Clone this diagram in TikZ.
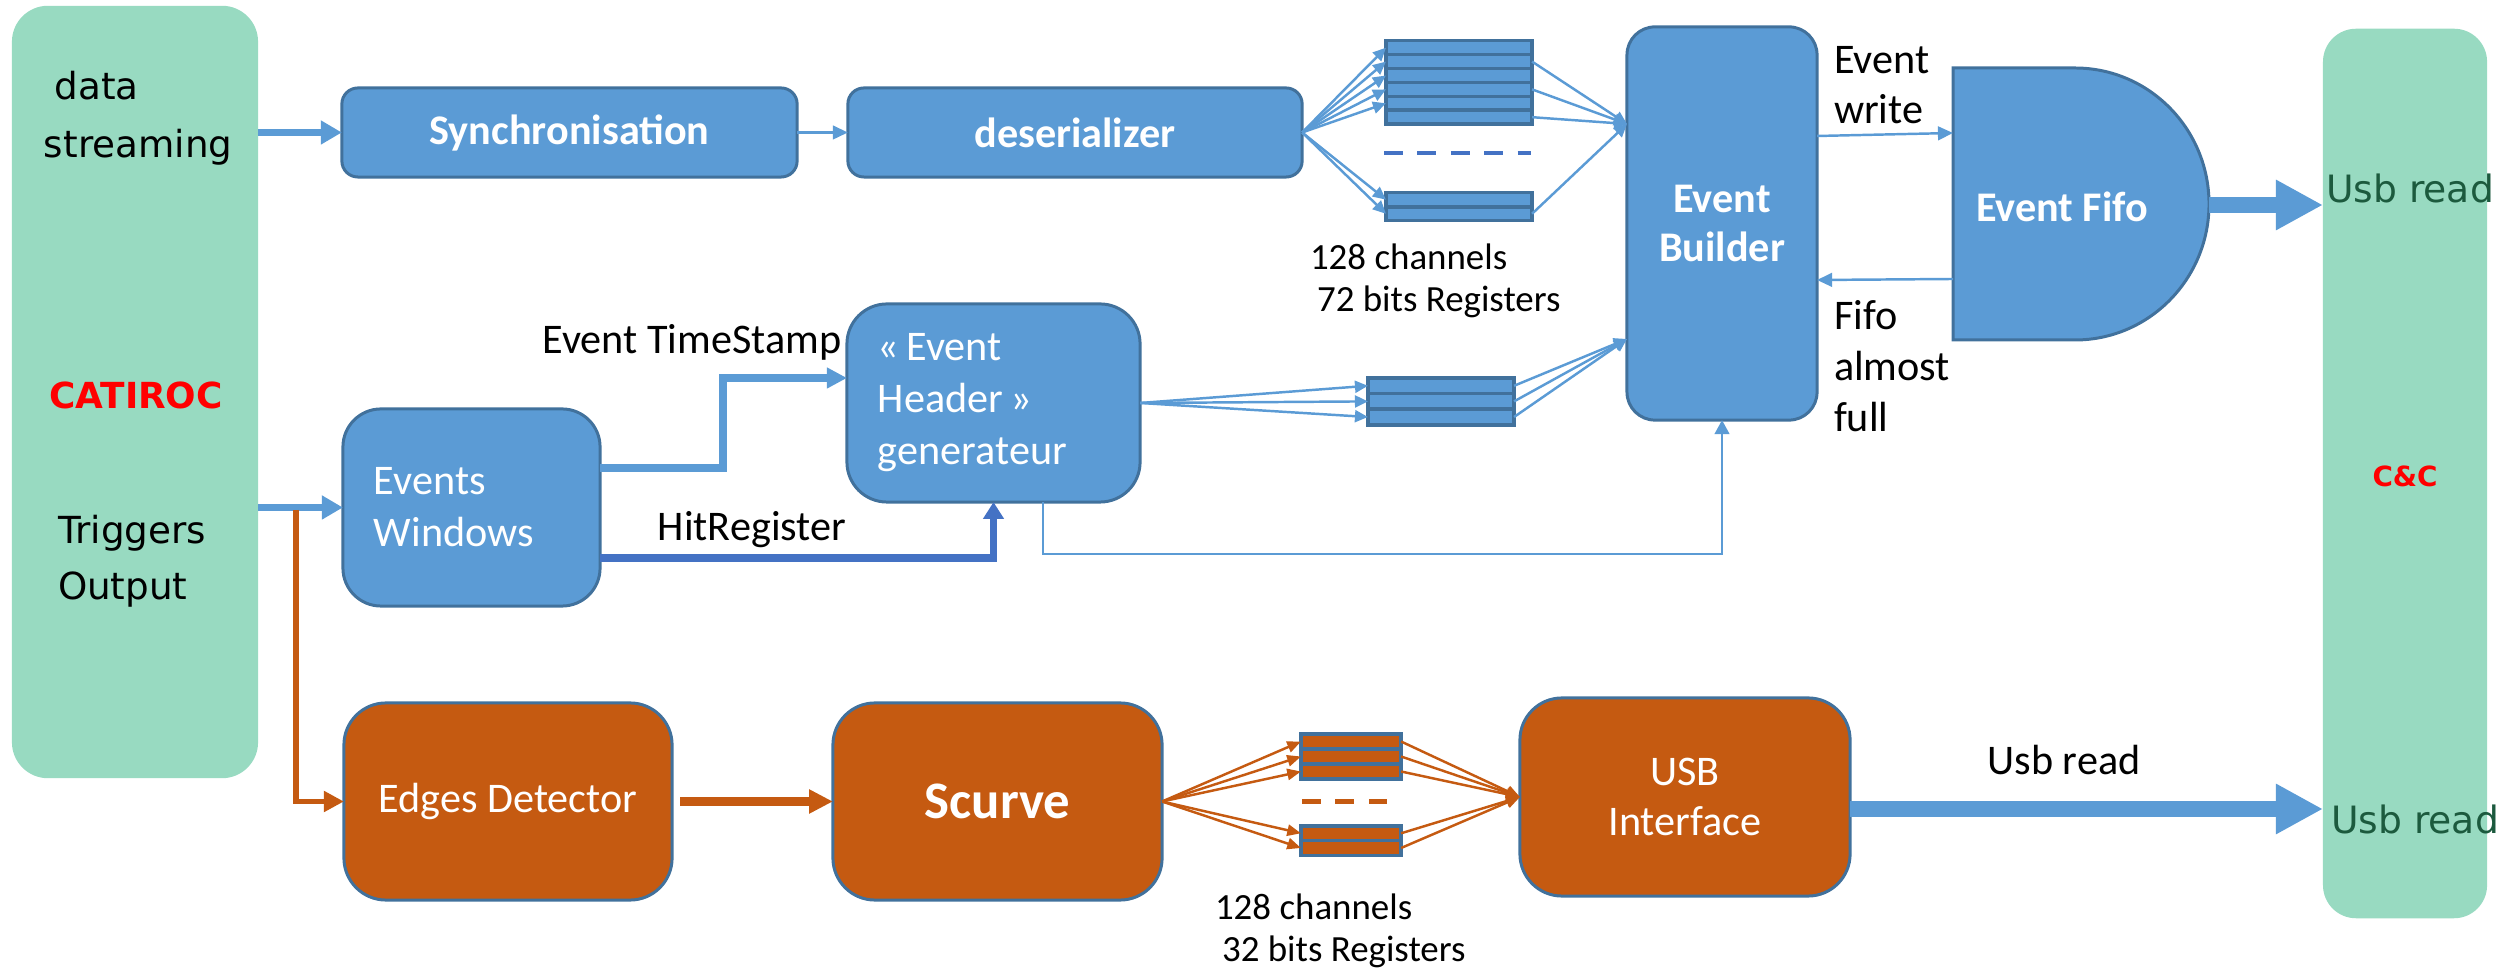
\documentclass[tikz,border=0pt]{standalone}
\usepackage{fontspec}
\setmainfont{Carlito}
\newfontfamily\dejavu{DejaVu Sans}
\usetikzlibrary{arrows.meta}
\definecolor{bfill}{HTML}{5B9BD5}
\definecolor{bdraw}{HTML}{41719C}
\definecolor{hitblue}{HTML}{4472C4}
\definecolor{ofill}{HTML}{C55A11}
\definecolor{gfill}{RGB}{152,218,193}
\definecolor{gtext}{RGB}{28,90,62}
\begin{document}
\begin{tikzpicture}[x=0.01cm,y=-0.01cm,
  box/.style={draw=bdraw,line width=0.85pt,inner sep=0pt,outer sep=0pt,text=white,align=center},
  bbox/.style={box,fill=bfill},
  obox/.style={box,fill=ofill},
  gbox/.style={fill=gfill,draw=none,inner sep=0pt,outer sep=0pt},
  reg/.style={draw=bdraw,line width=1pt,fill=bfill,minimum width=1.46cm,minimum height=0.139cm,inner sep=0pt,outer sep=0pt},
  oreg/.style={reg,fill=ofill,minimum width=1.0cm,minimum height=0.15cm},
  f12/.style={font=\fontsize{12}{14.8}\selectfont},
  f12b/.style={font=\fontsize{12}{14.2}\selectfont\bfseries},
  lbl/.style={inner sep=0pt,outer sep=0pt,text=black},
  regarrow/.style={draw=bfill,line width=0.7pt,-{Triangle[length=3.7pt,width=3.4pt]}},
  midarrow/.style={draw=bfill,line width=0.7pt,-{Triangle[length=4.3pt,width=3.9pt]}},
  thickarrow/.style={draw=bfill,line width=1.8pt,-{Triangle[length=6pt,width=6.5pt]}},
  tsarrow/.style={draw=bfill,line width=2pt,-{Triangle[length=5.7pt,width=5.6pt]}},
  hitarrow/.style={draw=hitblue,line width=2pt,-{Triangle[length=4.8pt,width=5.7pt]}},
  thinarrow/.style={draw=bfill,line width=0.6pt,-{Triangle[length=4pt,width=4.2pt]}},
  bigarrow/.style={draw=bfill,line width=4.6pt,-{Triangle[length=13.4pt,width=13.4pt]}},
  orarrow/.style={draw=ofill,line width=1.7pt,-{Triangle[length=5.7pt,width=5.7pt]}},
  orthick/.style={draw=ofill,line width=2.3pt,-{Triangle[length=6.8pt,width=6.5pt]}},
  orsmall/.style={draw=ofill,line width=0.7pt,-{Triangle[length=3.9pt,width=3.2pt]}}
]
\useasboundingbox (0,0) rectangle (2504,971);

% side panels
\node[gbox,rounded corners=0.36cm,minimum width=2.46cm,minimum height=7.72cm] (cat) at (135,392) {};
\node[gbox,rounded corners=0.33cm,minimum width=1.64cm,minimum height=8.89cm] (cc) at (2405,473.5) {};

\node[lbl,anchor=west,align=left,font=\dejavu\fontsize{10.6}{16.5}\selectfont] (ds) at (44,118.5) {\hspace*{3pt}data\\streaming};
\node[lbl,font=\dejavu\bfseries\fontsize{10.2}{12}\selectfont,text=red] (catn) at (136,395) {CATIROC};
\node[lbl,anchor=west,align=left,font=\dejavu\fontsize{10.6}{16}\selectfont] (trg) at (58,561) {Triggers\\Output};

\node[lbl,font=\dejavu\fontsize{10.7}{12}\selectfont,text=gtext] (ur1) at (2410,188) {Usb read};
\node[lbl,font=\dejavu\bfseries\fontsize{7.9}{9}\selectfont,text=red] (ccn) at (2405,476) {C\&C};
\node[lbl,font=\dejavu\fontsize{10.7}{12}\selectfont,text=gtext] (ur2) at (2415,819) {Usb read};

% blue blocks
\node[bbox,rounded corners=0.16cm,minimum width=4.55cm,minimum height=0.89cm,f12b] (sync) at (569.5,132.5) {Synchronisation};
\node[bbox,rounded corners=0.16cm,minimum width=4.54cm,minimum height=0.89cm,f12b] (deser) at (1075,132.5) {deserializer};
\node[bbox,rounded corners=0.28cm,minimum width=1.90cm,minimum height=3.93cm,f12b] (eb) at (1722,223.5) {Event\\Builder};
\draw[draw=bdraw,fill=bfill,line width=0.85pt] (1953,68) -- (2075,68)
   .. controls (2149,68) and (2209,129) .. (2209,204)
   .. controls (2209,279) and (2149,340) .. (2075,340) -- (1953,340) -- cycle;
\node[lbl,text=white,f12b] (fifo) at (2062,207) {Event Fifo};
\node[bbox,rounded corners=0.4cm,minimum width=2.93cm,minimum height=1.98cm,text width=2.31cm,align=left,font=\fontsize{12}{14.8}\selectfont] (eh) at (993.5,403) {«\,Event\\Header\,»\\generateur};
\node[bbox,rounded corners=0.38cm,minimum width=2.57cm,minimum height=1.97cm,text width=1.95cm,align=left,font=\fontsize{12}{14.8}\selectfont] (ew) at (471.5,507.5) {Events\\Windows};

% orange blocks
\node[obox,rounded corners=0.42cm,minimum width=3.28cm,minimum height=1.97cm,f12] (edges) at (508,801.5) {Edges Detector};
\node[obox,rounded corners=0.42cm,minimum width=3.29cm,minimum height=1.97cm,font=\fontsize{15}{18}\selectfont\bfseries] (scurve) at (997.5,801.5) {Scurve};
\node[obox,rounded corners=0.42cm,minimum width=3.30cm,minimum height=1.98cm,font=\fontsize{12}{14.2}\selectfont] (usb) at (1685,797) {USB\\Interface};

% labels
\node[lbl,anchor=west,align=left,font=\fontsize{12}{14.2}\selectfont] (evw) at (1834,85) {Event\\write};
\node[lbl,anchor=west,align=left,font=\fontsize{12}{14.5}\selectfont] (faf) at (1834,366) {Fifo\\almost\\full};
\node[lbl,f12] (ts) at (692,342) {Event TimeStamp};
\node[lbl,f12] (hr) at (752,530) {HitRegister};
\node[lbl,f12] (ur3) at (2064,760) {Usb read};
\node[lbl,anchor=west,align=left,font=\fontsize{10.5}{12}\selectfont] (c72) at (1310,281) {128 channels\\\hspace*{2pt}72 bits Registers};
\node[lbl,anchor=west,align=left,font=\fontsize{10.5}{12}\selectfont] (c32) at (1215,931) {128 channels\\\hspace*{2pt}32 bits Registers};

% registers
\foreach \i/\y in {1/47.7,2/61.6,3/75.5,4/89.4,5/103.3,6/117.2} \node[reg] (t\i) at (1459,\y) {};
\foreach \i/\y in {1/199.7,2/213.8} \node[reg] (u\i) at (1459,\y) {};
\foreach \i/\y in {1/385.8,2/401.4,3/417} \node[reg,minimum height=0.156cm] (m\i) at (1441,\y) {};
\foreach \i/\y in {1/741.5,2/756.5,3/771.5,4/833.3,5/848} \node[oreg] (o\i) at (1351,\y) {};
\draw[hitblue,line width=1.14pt,dash pattern=on 5.4pt off 4.1pt] (1384,152.7) -- (1531,152.7);
\draw[ofill,line width=1.4pt,dash pattern=on 5.4pt off 4.1pt] (1302,801.7) -- (1387,801.7);

% coordinates
\coordinate (ebA) at (1627,124);
\coordinate (ebB) at (1627,339);
\coordinate (ebC) at (1817,136);
\coordinate (fA) at (1953,133);
\coordinate (fB) at (1953,279);
\coordinate (ebD) at (1817,280);
\coordinate (fR) at (2209,205);
\coordinate (ccA) at (2323,205);
\coordinate (usbO) at (1850,809);
\coordinate (ccB) at (2323,809);
\coordinate (ewT) at (600,468);
\coordinate (tsK) at (723,378);
\coordinate (ehT) at (847,378);
\coordinate (ewH) at (600,558);
\coordinate (ehB) at (1043,502);
\coordinate (lk) at (1722,554);
\coordinate (ob) at (296,510);

% connectors
\draw[thickarrow] (cat.east |- sync.west) -- (sync.west);
\draw[midarrow] (sync.east) -- (deser.west);
\foreach \n in {t1,t2,t3,t4,t5,u1,u2} \draw[regarrow] (deser.east) -- (\n.west);
\foreach \n in {t2,t4,t6,u2} \draw[regarrow] (\n.east) -- (ebA);
\draw[midarrow] (ebC) -- (fA);
\draw[midarrow] (fB) -- (ebD);
\draw[bigarrow] (fR) -- (ccA);

\draw[thickarrow] (cat.east |- ew.west) -- (ew.west);
\draw[tsarrow] (ewT) -| (tsK) -- (ehT);
\draw[hitarrow] (ewH) -| (eh.south);
\foreach \n in {m1,m2,m3} \draw[regarrow] (eh.east) -- (\n.west);
\foreach \n in {m1,m2,m3} \draw[regarrow] (\n.east) -- (ebB);
\draw[thinarrow] (ehB) |- (lk) -- (eb.south);

\draw[orarrow] (ob) |- (edges.west);
\draw[orthick,shorten <=2.3pt] (edges.east) -- (scurve.west);
\foreach \n in {o1,o2,o3,o4,o5} \draw[orsmall] (scurve.east) -- (\n.west);
\foreach \n in {o1,o2,o3,o4,o5} \draw[orsmall] (\n.east) -- (usb.west);
\draw[bigarrow] (usbO) -- (ccB);
\end{tikzpicture}
\end{document}
